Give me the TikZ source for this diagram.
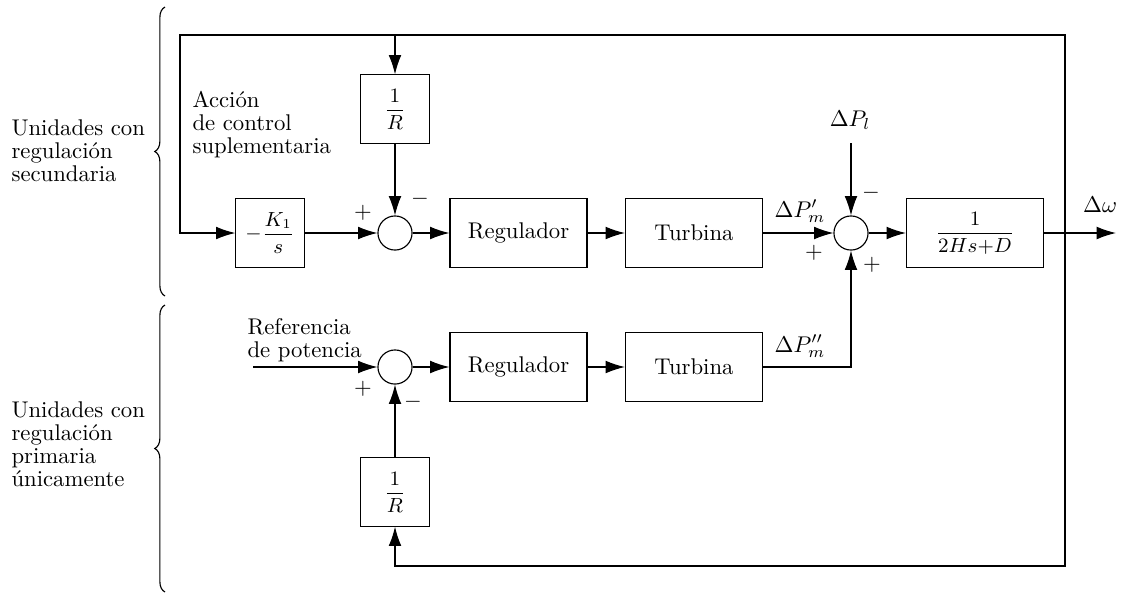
\documentclass[tikz,border=0pt]{standalone}
\usepackage{amsmath}
\usetikzlibrary{arrows.meta,decorations.pathreplacing}
\begin{document}
\begin{tikzpicture}[x=0.44pt,y=-0.44pt,
  line width=0.5pt,
  arr/.style={-{Latex[length=8.5pt,width=5.6pt]}},
  blk/.style={draw,minimum width=60.3pt,minimum height=30.4pt,inner sep=0pt},
  sblk/.style={draw,minimum width=30pt,minimum height=30pt,inner sep=0pt},
  frc/.style={font=\fontsize{9}{10}\selectfont},
  sumc/.style={draw,circle,minimum size=15pt,inner sep=0pt},
  lbl/.style={inner sep=0pt,align=left,font=\fontsize{10}{10}\selectfont},
  sgn/.style={inner sep=0pt}]
\useasboundingbox (0,0) rectangle (1121,593);
% blocks
\node[sblk,frc] (K1) at (270,233) {$-\dfrac{K_1}{s}$};
\node[sblk,frc] (R1) at (395,109) {$\dfrac{1}{R}$};
\node[sumc] (s1) at (395,233) {};
\node[blk] (reg1) at (518.5,233) {Regulador};
\node[blk] (tur1) at (694,233) {Turbina};
\node[sumc] (s3) at (851,233) {};
\node[blk,frc] (G) at (975,233) {$\dfrac{1}{2Hs{+}D}$};
\node[sumc] (s2) at (395,367) {};
\node[blk] (reg2) at (518.5,367) {Regulador};
\node[blk] (tur2) at (694,367) {Turbina};
\node[sblk,frc] (R2) at (395,492) {$\dfrac{1}{R}$};
% coordinates
\coordinate (pick) at (1065,233);
\coordinate (tl) at (180,35);
\coordinate (top) at (395,35);
\coordinate (bot) at (395,566);
\coordinate (wout) at (1116,233);
\coordinate (pl) at (851,143);
\coordinate (refin) at (253,367);
% connectors
\draw[arr] (K1) -- (s1);
\draw[arr] (s1) -- (reg1);
\draw[arr] (reg1) -- (tur1);
\draw[arr] (tur1) -- (s3);
\draw[arr] (s3) -- (G);
\draw[arr] (G) -- (wout);
\draw[arr] (pick) |- (tl) |- (K1);
\draw[arr] (top) -- (R1);
\draw[arr] (R1) -- (s1);
\draw[arr] (pl) -- (s3);
\draw[arr] (refin) -- (s2);
\draw[arr] (s2) -- (reg2);
\draw[arr] (reg2) -- (tur2);
\draw[arr] (tur2) -| (s3);
\draw[arr] (pick) |- (bot) -- (R2);
\draw[arr] (R2) -- (s2);
% signs
\node[sgn] (p1) at (363,213) {$+$};
\node[sgn] (m1) at (420,199) {$-$};
\node[sgn] (p2) at (363,389) {$+$};
\node[sgn] (m2) at (413,402) {$-$};
\node[sgn] (p3) at (814,253) {$+$};
\node[sgn] (m3) at (871,193) {$-$};
\node[sgn] (p4) at (872,265) {$+$};
% signal labels
\node[inner sep=0pt] (lPl) at (850,120) {$\Delta P_l$};
\node[inner sep=0pt,anchor=base] (lPm1) at (800,217) {$\Delta P'_m$};
\node[inner sep=0pt,anchor=base] (lPm2) at (800,352) {$\Delta P''_m$};
\node[inner sep=0pt] (lw) at (1100,205) {$\Delta\omega$};
% text labels (base anchor = last line)
\node[lbl,anchor=base west] (acc) at (192,153) {Acción\\de control\\suplementaria};
\node[lbl,anchor=base west] (ref) at (247,357) {Referencia\\de potencia};
\node[lbl,anchor=base west] (u1) at (11,181) {Unidades con\\regulación\\secundaria};
\node[lbl,anchor=base west] (u2) at (11,486) {Unidades con\\regulación\\primaria\\únicamente};
% braces
\draw[decorate,decoration={brace,amplitude=4.5pt}] (165,296) -- (165,7);
\draw[decorate,decoration={brace,amplitude=4.5pt}] (165,592) -- (165,305);
\end{tikzpicture}
\end{document}
